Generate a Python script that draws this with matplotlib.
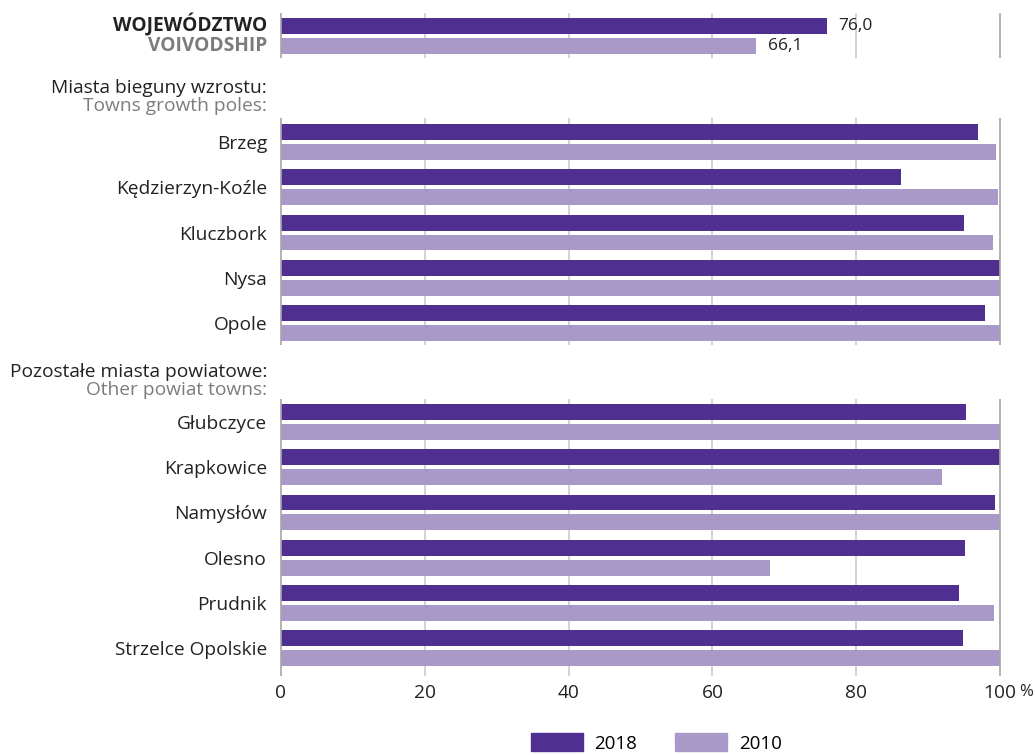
import matplotlib.pyplot as plt
from matplotlib.patches import Patch

plt.rcParams['font.family'] = ['Open Sans', 'DejaVu Sans']

# udział (%) - województwo i miasta
woj_2018 = 76.0
woj_2010 = 66.1

bieguny = ['Brzeg', 'Kędzierzyn-Koźle', 'Kluczbork', 'Nysa', 'Opole']
bieguny_2018 = [96.9, 86.2, 95.0, 100.0, 97.9]
bieguny_2010 = [99.4, 99.7, 99.0, 100.0, 100.0]

powiatowe = ['Głubczyce', 'Krapkowice', 'Namysłów', 'Olesno', 'Prudnik', 'Strzelce Opolskie']
powiatowe_2018 = [95.3, 100.0, 99.3, 95.1, 94.3, 94.8]
powiatowe_2010 = [100.0, 91.9, 100.0, 68.0, 99.2, 100.0]

c2018 = '#4f2f8f'
c2010 = '#a999c9'
szary = '#7c7c7c'
tekst = '#222222'
fs = 13.8

# pozycje wierszy (1 jednostka = odstęp miedzy miastami)
poz_b = [2.34 + i for i in range(len(bieguny))]
poz_p = [8.52 + i for i in range(len(powiatowe))]
h = 0.35
d = 0.22

fig = plt.figure(figsize=(10.35, 7.55), dpi=100)
ax = fig.add_axes([281 / 1035, 1 - 670 / 755, 719 / 1035, 657 / 755])

ax.barh([0 - d], [woj_2018], height=h, color=c2018)
ax.barh([0 + d], [woj_2010], height=h, color=c2010)
ax.barh([p - d for p in poz_b], bieguny_2018, height=h, color=c2018)
ax.barh([p + d for p in poz_b], bieguny_2010, height=h, color=c2010)
ax.barh([p - d for p in poz_p], powiatowe_2018, height=h, color=c2018)
ax.barh([p + d for p in poz_p], powiatowe_2010, height=h, color=c2010)

ax.text(woj_2018 + 1.5, -d, '76,0', va='center', ha='left', fontsize=12.5, color=tekst)
ax.text(woj_2010 + 1.6, d, '66,1', va='center', ha='left', fontsize=12.5, color=tekst)

ax.set_xlim(0, 100)
ax.set_ylim(14.0, -0.508)

# linie siatki tylko w obrębie grup
odcinki = [(-0.508, 0.486), (1.81, 6.82), (8.01, 14.13)]
for y0, y1 in odcinki:
    for x in [20, 40, 60, 80]:
        ax.vlines(x, y0, y1, color='#cccccc', lw=1.2, zorder=0, clip_on=False)
    for x in [0, 100]:
        ax.vlines(x, y0, y1, color='#a6a6a6', lw=1.2, zorder=3, clip_on=False)

for s in ax.spines.values():
    s.set_visible(False)

ax.set_yticks(poz_b + poz_p)
ax.set_yticklabels(bieguny + powiatowe, fontsize=fs, color=tekst)
ax.tick_params(axis='y', length=0, pad=10)

ax.set_xticks([0, 20, 40, 60, 80, 100])
ax.set_xticklabels(['0', '20', '40', '60', '80', '100'], fontsize=fs, color=tekst)
ax.tick_params(axis='x', length=0, pad=10)
ax.text(102.6, -0.033, '%', transform=ax.get_xaxis_transform(), ha='left', va='center',
        fontsize=12, color=tekst)

lx = -1.95
ax.text(lx, -0.25, 'WOJEWÓDZTWO', ha='right', va='center', fontsize=fs,
        fontweight='bold', color=tekst, clip_on=False)
ax.text(lx, 0.21, 'VOIVODSHIP', ha='right', va='center', fontsize=fs,
        fontweight='bold', color=szary, clip_on=False)
ax.text(lx, 1.14, 'Miasta bieguny wzrostu:', ha='right', va='center', fontsize=fs,
        color=tekst, clip_on=False)
ax.text(lx, 1.54, 'Towns growth poles:', ha='right', va='center', fontsize=fs,
        color=szary, clip_on=False)
ax.text(lx, 7.41, 'Pozostałe miasta powiatowe:', ha='right', va='center', fontsize=fs,
        color=tekst, clip_on=False)
ax.text(lx, 7.81, 'Other powiat towns:', ha='right', va='center', fontsize=fs,
        color=szary, clip_on=False)

fig.legend(handles=[Patch(color=c2018, label='2018'), Patch(color=c2010, label='2010')],
           loc='center', bbox_to_anchor=(0.634, 0.016), ncol=2, frameon=False,
           fontsize=13.5, handlelength=2.8, handleheight=1.1, columnspacing=2.0,
           handletextpad=0.6)

fig.savefig('out.png', dpi=100)
